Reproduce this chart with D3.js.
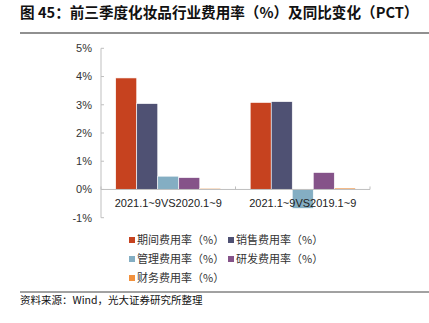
<!DOCTYPE html>
<html><head><meta charset="utf-8">
<script src="https://cdn.jsdelivr.net/npm/d3@7"></script>
<style>body{margin:0;background:#fff;} svg{display:block;}</style>
</head><body>
<svg id="c" width="429" height="323"></svg>
<script>
const categories = ["2021.1~9VS2020.1~9", "2021.1~9VS2019.1~9"];
const seriesNames = ["期间费用率（%）", "销售费用率（%）", "管理费用率（%）", "研发费用率（%）", "财务费用率（%）"];
const seriesColors = ["#C6421F", "#4F5173", "#84AEC3", "#855389", "#F2913D"];
const seriesValues = [
  [3.95, 3.08],
  [3.04, 3.11],
  [0.47, -0.67],
  [0.42, 0.60],
  [0.04, 0.05]
];
const yTicks = [-1, 0, 1, 2, 3, 4, 5];

const svg = d3.select("#c");
const cjk = "'Noto Sans CJK SC', 'Noto Sans', sans-serif";
const lat = "'Liberation Sans', Arial, sans-serif";

// title
svg.append("text").attr("x", 20).attr("y", 17.5).attr("font-family", cjk).attr("font-weight", "bold")
  .attr("font-size", 14.6).attr("fill", "#111").text("图 45：前三季度化妆品行业费用率（%）及同比变化（PCT）");
svg.append("line").attr("x1", 20).attr("x2", 429).attr("y1", 33).attr("y2", 33).attr("stroke", "#222").attr("stroke-width", 1.2);

const y = d3.scaleLinear().domain([-1, 5]).range([217.7, 48.3]);
const x0 = d3.scaleBand().domain(categories).range([101, 370]).padding(0);
const x1 = d3.scaleBand().domain(d3.range(seriesNames.length)).range([0, x0.bandwidth()]).paddingInner(0).paddingOuter(0.7);

const axisColor = "#BFBFBF";
// y axis
const gy = svg.append("g").attr("transform", "translate(101,0)");
gy.append("line").attr("y1", y(5)).attr("y2", y(-1)).attr("stroke", axisColor);
yTicks.forEach(t => {
  gy.append("line").attr("x1", 0).attr("x2", 3).attr("y1", y(t)).attr("y2", y(t)).attr("stroke", axisColor);
  gy.append("text").attr("x", -9).attr("y", y(t)).attr("dy", "0.35em").attr("text-anchor", "end")
    .attr("font-family", lat).attr("font-size", 11).attr("fill", "#333").text(t + "%");
});

// bars
seriesNames.forEach((s, i) => {
  svg.append("g").selectAll("rect").data(categories).join("rect")
    .attr("x", c => x0(c) + x1(i))
    .attr("width", x1.bandwidth())
    .attr("y", (c, j) => y(Math.max(0, seriesValues[i][j])))
    .attr("height", (c, j) => Math.abs(y(seriesValues[i][j]) - y(0)))
    .attr("fill", seriesColors[i])
    .attr("stroke", "#fff").attr("stroke-width", 0.6);
});

// x axis
svg.append("line").attr("x1", 101).attr("x2", 370).attr("y1", y(0)).attr("y2", y(0)).attr("stroke", axisColor);
[101, ...categories.map(c => x0(c) + x0.bandwidth())].forEach(px => {
  svg.append("line").attr("x1", px).attr("x2", px).attr("y1", y(0)).attr("y2", y(0) - 3).attr("stroke", axisColor);
});
categories.forEach(c => {
  svg.append("text").attr("x", x0(c) + x0.bandwidth() / 2).attr("y", 207)
    .attr("text-anchor", "middle").attr("font-family", lat).attr("font-size", 11).attr("fill", "#222").text(c);
});

// legend
const legPos = [[129, 240], [228, 240], [129, 259], [228, 259], [129, 278]];
seriesNames.forEach((s, i) => {
  const [lx, ly] = legPos[i];
  svg.append("rect").attr("x", lx).attr("y", ly - 3).attr("width", 6).attr("height", 6).attr("fill", seriesColors[i]);
  svg.append("text").attr("x", lx + 8).attr("y", ly).attr("dy", "0.35em").attr("font-family", cjk)
    .attr("font-size", 11).attr("fill", "#333").text(s);
});

// footer
svg.append("line").attr("x1", 20).attr("x2", 429).attr("y1", 292).attr("y2", 292).attr("stroke", "#444").attr("stroke-width", 1);
svg.append("text").attr("x", 20).attr("y", 300).attr("dy", "0.35em").attr("font-family", cjk)
  .attr("font-size", 10.5).attr("fill", "#111").text("资料来源：Wind，光大证券研究所整理");
</script>
</body></html>
